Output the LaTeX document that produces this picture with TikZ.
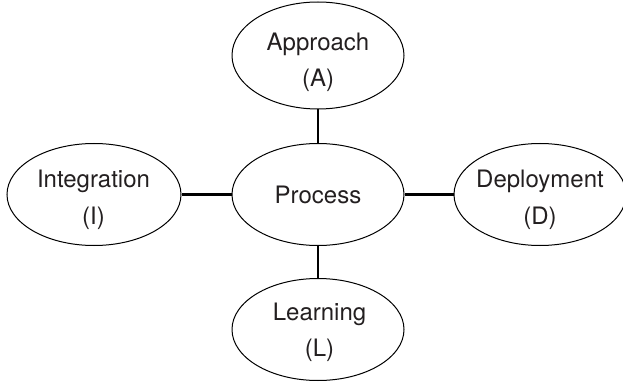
\documentclass[tikz,border=0pt]{standalone}
\usepackage{fontspec}
\setmainfont{TeX Gyre Heros}
\usetikzlibrary{shapes.geometric}
\definecolor{txtcol}{HTML}{231F20}
\tikzset{
  ell/.style={ellipse, draw=black, line width=1pt, minimum width=172pt, minimum height=102pt, inner sep=0pt},
  lbl/.style={anchor=base, inner sep=0pt, text=txtcol, font=\fontsize{24}{28}\selectfont},
  conn/.style={draw=black, line width=2.2pt}
}
\begin{document}
\begin{tikzpicture}[x=1pt,y=1pt]
\useasboundingbox (0,0) rectangle (623,-382);
\node[ell, minimum height=107pt] (A) at (318,-55.5) {};
\node[ell] (P) at (318,-194.5) {};
\node[ell, minimum width=174pt] (I) at (94,-194.5) {};
\node[ell] (D) at (540,-194.5) {};
\node[ell] (L) at (318,-329.5) {};
\node[lbl] (A1) at (318,-51) {Approach};
\node[lbl] (A2) at (318,-87) {(A)};
\node[lbl] (P1) at (318,-203) {Process};
\node[lbl] (I1) at (93.5,-187) {Integration};
\node[lbl] (I2) at (93.5,-224) {(I)};
\node[lbl] (D1) at (540,-187) {Deployment};
\node[lbl] (D2) at (540,-224) {(D)};
\node[lbl] (L1) at (319.5,-320) {Learning};
\node[lbl] (L2) at (319.5,-356) {(L)};
\draw[conn] (A.south) -- (P.north);
\draw[conn] (I.east) -- (P.west);
\draw[conn] (P.east) -- (D.west);
\draw[conn] (P.south) -- (L.north);
\end{tikzpicture}
\end{document}
